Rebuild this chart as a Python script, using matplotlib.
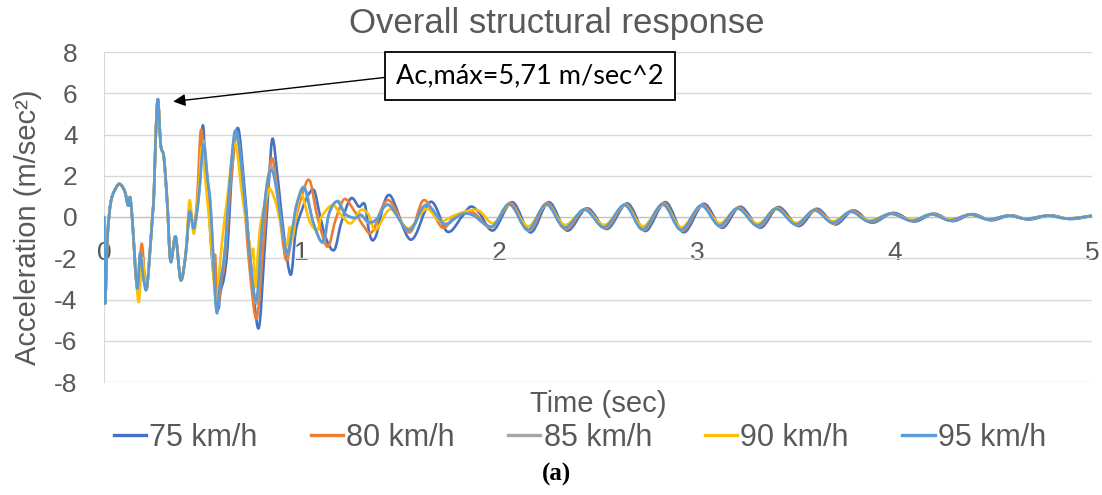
import numpy as np
import matplotlib
matplotlib.use("Agg")
import matplotlib.pyplot as plt
from matplotlib.path import Path
from matplotlib.patches import PathPatch
from matplotlib.lines import Line2D

# ---- data (time in sec, acceleration in m/sec^2) ----
t75 = [0.0, 0.005, 0.018, 0.035, 0.06, 0.08, 0.105, 0.122, 0.132, 0.143, 0.168, 0.19, 0.205, 0.218,
       0.245, 0.253, 0.262, 0.273, 0.287, 0.303, 0.32, 0.337, 0.362, 0.388, 0.413, 0.433, 0.455,
       0.475, 0.499, 0.512, 0.525, 0.545, 0.575, 0.59, 0.608, 0.625, 0.65, 0.679, 0.71, 0.745, 0.782,
       0.81, 0.835, 0.853, 0.878, 0.91, 0.945, 0.97, 1.0, 1.03, 1.063, 1.09, 1.122, 1.165, 1.2, 1.249,
       1.29, 1.32, 1.345, 1.375, 1.443, 1.552, 1.653, 1.737, 1.81, 1.855, 1.9,
       1.97, 2.066, 2.159, 2.251, 2.344, 2.445, 2.546, 2.648, 2.74, 2.841, 2.934, 3.035, 3.128, 3.22,
       3.321, 3.414, 3.515, 3.608, 3.701, 3.793, 3.886, 3.995, 4.1, 4.2, 4.295, 4.395, 4.49, 4.59,
       4.68, 4.79, 4.89, 5.0]
a75 = [0.0, -4.2, -0.9, 0.75, 1.4, 1.6, 1.25, 0.55, 0.95, -0.1, -3.45, -1.6, -2.9, -3.35,
       0.0, 1.2, 4.0, 5.7, 3.5, 2.9, 0.7, -2.15, -0.95, -3.05, -1.85, 0.25, -0.55,
       0.9, 4.4, 2.8, 1.5, -1.8, -4.4, -3.6, -2.9, -1.5, 2.5, 4.3, 1.5, -2.5, -5.4,
       -2.0, 1.8, 3.8, 2.0, -0.8, -2.8, -0.7, 0.3, 1.0, 1.3, 0.2, -1.0, -1.6, -0.3, 0.9,
       0.5, 0.6, -0.87, -0.95, 1.07, -1.1, 0.74, -0.71, 0.0, 0.5, 0.2,
       -0.65, 0.72, -0.75, 0.72, -0.66, 0.42, -0.58, 0.66, -0.68, 0.72, -0.74, 0.64, -0.52, 0.5,
       -0.52, 0.48, -0.44, 0.4, -0.36, 0.32, -0.28, 0.2, -0.22, 0.16, -0.2, 0.14, -0.16, 0.08,
       -0.12, 0.08, -0.1, 0.05]

t80 = [0.0, 0.005, 0.018, 0.035, 0.06, 0.08, 0.105, 0.122, 0.132, 0.143, 0.168, 0.19, 0.205, 0.218,
       0.245, 0.253, 0.262, 0.273, 0.287, 0.303, 0.32, 0.337, 0.362, 0.388, 0.413, 0.433, 0.455,
       0.472, 0.49, 0.51, 0.54, 0.556, 0.563, 0.575, 0.595, 0.61, 0.64, 0.672, 0.705, 0.74, 0.773,
       0.805, 0.83, 0.85, 0.875, 0.9, 0.925, 0.96, 1.0, 1.04, 1.08, 1.131, 1.17, 1.215, 1.26,
       1.316, 1.358, 1.438, 1.545, 1.619, 1.71, 1.77, 1.83, 1.88,
       1.96, 2.058, 2.151, 2.243, 2.336, 2.437, 2.538, 2.64, 2.732, 2.833, 2.926, 3.027, 3.12, 3.212,
       3.313, 3.406, 3.507, 3.6, 3.693, 3.785, 3.878, 3.987, 4.092, 4.192, 4.287, 4.387, 4.482, 4.582,
       4.672, 4.782, 4.882, 5.0]
a80 = [0.0, -4.2, -0.9, 0.75, 1.4, 1.6, 1.25, 0.55, 0.95, -0.1, -3.45, -1.3, -2.8, -3.35,
       0.0, 1.2, 4.0, 5.7, 3.5, 2.9, 0.7, -2.15, -0.95, -3.05, -1.85, 0.25, -0.55,
       1.0, 4.2, 2.5, -0.5, -2.3, -1.9, -4.3, -3.0, -2.2, 1.5, 4.05, 1.2, -2.8, -4.9,
       -1.5, 1.5, 2.85, 1.5, -0.8, -2.1, -0.5, 1.0, 1.78, 0.0, -1.44, -0.2, 0.86, 0.4,
       -0.47, -0.71, 0.82, -0.75, 0.82, -0.5, 0.0, 0.25, 0.15,
       -0.5, 0.68, -0.68, 0.68, -0.6, 0.4, -0.55, 0.62, -0.64, 0.68, -0.68, 0.6, -0.48, 0.46,
       -0.48, 0.45, -0.4, 0.37, -0.32, 0.3, -0.25, 0.18, -0.2, 0.15, -0.18, 0.13, -0.14, 0.08,
       -0.1, 0.08, -0.08, 0.06]

t85 = [0.0, 0.005, 0.018, 0.035, 0.06, 0.08, 0.105, 0.122, 0.132, 0.143, 0.168, 0.183, 0.2, 0.218,
       0.245, 0.253, 0.262, 0.273, 0.287, 0.303, 0.32, 0.337, 0.362, 0.388, 0.413, 0.433, 0.455,
       0.48, 0.503, 0.524, 0.54, 0.568, 0.585, 0.61, 0.635, 0.664, 0.69, 0.72, 0.77, 0.8, 0.83,
       0.853, 0.875, 0.905, 0.928, 0.955, 0.975, 1.015, 1.06, 1.11, 1.14, 1.185, 1.22, 1.27, 1.3,
       1.34, 1.38, 1.44, 1.545, 1.63, 1.72, 1.785, 1.82, 1.87,
       1.965, 2.054, 2.147, 2.239, 2.332, 2.433, 2.534, 2.636, 2.728, 2.829, 2.922, 3.023, 3.116, 3.208,
       3.309, 3.402, 3.503, 3.596, 3.689, 3.781, 3.874, 3.983, 4.088, 4.188, 4.283, 4.383, 4.478, 4.578,
       4.668, 4.778, 4.878, 5.0]
a85 = [0.0, -4.2, -0.9, 0.75, 1.4, 1.6, 1.25, 0.55, 0.95, -0.1, -3.45, -1.75, -3.0, -3.35,
       0.0, 1.2, 4.0, 5.7, 3.5, 2.9, 0.7, -2.15, -0.95, -3.05, -1.85, 0.25, -0.55,
       1.0, 3.7, 1.9, 0.4, -4.4, -3.3, -1.8, 1.5, 4.1, 3.0, 0.0, -4.2, -0.5, 1.9,
       2.4, 1.2, -0.8, -1.8, -0.5, 0.6, 1.45, -0.3, -1.25, 0.2, 0.78, 0.15, -0.05, 0.1,
       -0.3, -0.1, 0.6, -0.65, 0.6, -0.35, 0.0, 0.18, 0.08,
       -0.48, 0.64, -0.64, 0.64, -0.55, 0.38, -0.52, 0.6, -0.62, 0.64, -0.64, 0.57, -0.44, 0.43,
       -0.44, 0.42, -0.38, 0.34, -0.3, 0.27, -0.23, 0.17, -0.19, 0.14, -0.17, 0.12, -0.13, 0.07,
       -0.09, 0.07, -0.08, 0.06]

t90 = [0.0, 0.005, 0.018, 0.035, 0.06, 0.08, 0.105, 0.122, 0.132, 0.143, 0.163, 0.177, 0.192, 0.205,
       0.218, 0.245, 0.253, 0.262, 0.273, 0.287, 0.303, 0.32, 0.337, 0.362, 0.388, 0.413, 0.433,
       0.455, 0.48, 0.495, 0.515, 0.54, 0.568, 0.585, 0.6, 0.625, 0.662, 0.7, 0.735, 0.748, 0.756,
       0.766, 0.79, 0.828, 0.845, 0.875, 0.92, 0.94, 0.955, 0.975, 1.0, 1.04, 1.08, 1.1, 1.156,
       1.2, 1.249, 1.3, 1.34, 1.375, 1.45, 1.54, 1.63, 1.7, 1.78, 1.889,
       1.97, 2.054, 2.147, 2.239, 2.332, 2.433, 2.534, 2.636, 2.728, 2.829, 2.922, 3.023, 3.116, 3.208,
       3.309, 3.402, 3.503, 3.596, 3.689, 3.781, 3.874, 3.983, 4.088, 4.188, 4.283, 4.383, 4.478, 4.578,
       4.668, 4.778, 4.878, 5.0]
a90 = [0.0, -4.2, -0.9, 0.75, 1.4, 1.6, 1.25, 0.55, 0.95, -0.1, -3.0, -4.1, -2.0, -2.9,
       -3.35, 0.0, 1.2, 4.0, 5.7, 3.5, 2.9, 0.7, -2.15, -0.95, -3.05, -1.85, 0.8,
       -0.8, 1.5, 3.4, 1.6, -1.0, -4.3, -2.5, -0.95, 1.0, 3.6, 1.0, -1.2, -1.9, -1.6,
       -3.4, -0.5, 1.15, 1.3, 0.5, -1.4, -0.5, -1.0, 0.3, 1.1, -0.2, -0.63, 0.0, 0.58,
       0.1, -0.31, 0.34, 0.1, -0.63, 0.37, -0.55, 0.39, -0.2, 0.1, 0.34,
       -0.3, 0.58, -0.45, 0.58, -0.38, 0.34, -0.38, 0.55, -0.45, 0.58, -0.5, 0.52, -0.3, 0.4,
       -0.32, 0.38, -0.28, 0.3, -0.2, 0.24, -0.15, 0.14, -0.14, 0.12, -0.12, 0.1, -0.1, 0.06,
       -0.08, 0.06, -0.07, 0.06]

t95 = [0.0, 0.005, 0.018, 0.035, 0.06, 0.08, 0.105, 0.122, 0.132, 0.143, 0.168, 0.183, 0.2, 0.218,
       0.245, 0.253, 0.262, 0.273, 0.287, 0.303, 0.32, 0.337, 0.362, 0.388, 0.413, 0.433, 0.455,
       0.48, 0.503, 0.524, 0.54, 0.568, 0.585, 0.61, 0.635, 0.662, 0.69, 0.72, 0.768, 0.8, 0.83,
       0.853, 0.875, 0.905, 0.928, 0.955, 0.975, 1.013, 1.06, 1.106, 1.14, 1.18, 1.22, 1.27, 1.3,
       1.34, 1.38, 1.44, 1.543, 1.628, 1.72, 1.785, 1.82, 1.87,
       1.965, 2.052, 2.145, 2.237, 2.33, 2.431, 2.532, 2.634, 2.726, 2.827, 2.92, 3.021, 3.114, 3.206,
       3.307, 3.4, 3.501, 3.594, 3.687, 3.779, 3.872, 3.981, 4.086, 4.186, 4.281, 4.381, 4.476, 4.576,
       4.666, 4.776, 4.876, 5.0]
a95 = [0.0, -4.2, -0.9, 0.75, 1.4, 1.6, 1.25, 0.55, 0.95, -0.1, -3.45, -1.75, -3.0, -3.35,
       0.0, 1.2, 4.0, 5.71, 3.5, 2.9, 0.7, -2.15, -0.95, -3.05, -1.85, 0.25, -0.55,
       1.0, 3.5, 1.8, 0.4, -4.5, -3.4, -1.8, 1.5, 4.15, 3.0, 0.0, -4.05, -0.5, 1.9,
       2.2, 1.2, -0.8, -1.75, -0.5, 0.6, 1.4, -0.3, -1.2, 0.2, 0.75, 0.15, -0.05, 0.1,
       -0.25, -0.1, 0.58, -0.63, 0.58, -0.32, 0.0, 0.16, 0.08,
       -0.45, 0.62, -0.62, 0.62, -0.52, 0.36, -0.5, 0.58, -0.6, 0.62, -0.62, 0.55, -0.42, 0.42,
       -0.42, 0.4, -0.36, 0.33, -0.28, 0.26, -0.22, 0.16, -0.18, 0.13, -0.16, 0.12, -0.12, 0.07,
       -0.09, 0.07, -0.08, 0.06]

labels = ["75 km/h", "80 km/h", "85 km/h", "90 km/h", "95 km/h"]
colors = ["#4472C4", "#ED7D31", "#A5A5A5", "#FFC000", "#5B9BD5"]
series = [(t75, a75), (t80, a80), (t85, a85), (t90, a90), (t95, a95)]


def smooth_path(x, y):
    # Excel-like "smoothed line": Catmull-Rom segments as cubic Beziers
    pts = np.column_stack([x, y]).astype(float)
    n = len(pts)
    verts = [pts[0]]
    codes = [Path.MOVETO]
    for i in range(n - 1):
        p0 = pts[max(i - 1, 0)]
        p1 = pts[i]
        p2 = pts[i + 1]
        p3 = pts[min(i + 2, n - 1)]
        verts += [p1 + (p2 - p0) / 6, p2 - (p3 - p1) / 6, p2]
        codes += [Path.CURVE4] * 3
    return Path(verts, codes)


plt.rcParams["font.family"] = ["Liberation Sans", "DejaVu Sans"]
plt.rcParams["axes.unicode_minus"] = False
txt = "#595959"

fig = plt.figure(figsize=(11.02, 4.95), dpi=100)
ax = fig.add_axes([104 / 1102, 1 - 382 / 495, 988 / 1102, 330 / 495])

for (t, a), c in zip(series, colors):
    ax.add_patch(PathPatch(smooth_path(t, a), fill=False, edgecolor=c, lw=1.9,
                           capstyle="round", joinstyle="round", zorder=3))

ax.set_xlim(0, 5)
ax.set_ylim(-8, 8)
ax.set_xticks(range(0, 6))
ax.set_yticks(range(-8, 9, 2))
ax.yaxis.grid(True, color="#d9d9d9", lw=1)
ax.set_axisbelow(True)
for s in ["top", "right"]:
    ax.spines[s].set_visible(False)
ax.spines["left"].set_color("#d9d9d9")
ax.spines["bottom"].set_position(("data", 0))
ax.spines["bottom"].set_color("#bfbfbf")
ax.tick_params(axis="both", length=0, labelsize=19, labelcolor=txt)
ax.tick_params(axis="y", pad=19)
ax.tick_params(axis="x", pad=17)

ax.set_ylabel("Acceleration (m/sec²)", fontsize=21, color=txt, va="center")
ax.yaxis.set_label_coords(-0.077, 0.47)
ax.set_xlabel("Time (sec)", fontsize=21, color=txt, va="center")
ax.xaxis.set_label_coords(0.5, -0.067)

fig.text(0.505, 1 - 24 / 495, "Overall structural response", fontsize=25, color=txt,
         ha="center", va="center")

ax.annotate("Ac,máx=5,71 m/sec^2", xy=(0.35, 5.6), xytext=(2.156, 6.83),
            fontsize=19.5, family=["Lato", "DejaVu Sans"], color="black",
            ha="center", va="center",
            bbox=dict(boxstyle="square,pad=0.42", fc="white", ec="black", lw=1.3),
            arrowprops=dict(arrowstyle="-|>", color="black", lw=1, relpos=(0, 0.5),
                            mutation_scale=18, shrinkA=0, shrinkB=0),
            zorder=5)

handles = [Line2D([], [], color=c, lw=2.4) for c in colors]
fig.legend(handles, labels, loc="center", bbox_to_anchor=(580 / 1102, 1 - 438 / 495), ncol=5,
           frameon=False, fontsize=22, labelcolor=txt, handlelength=1.05, handletextpad=0.1,
           columnspacing=1.75)

fig.text(0.505, 1 - 474 / 495, "(a)", fontsize=18, family=["Liberation Serif", "DejaVu Serif"],
         weight="bold", ha="center", va="center")

fig.savefig("out.png", dpi=100)
